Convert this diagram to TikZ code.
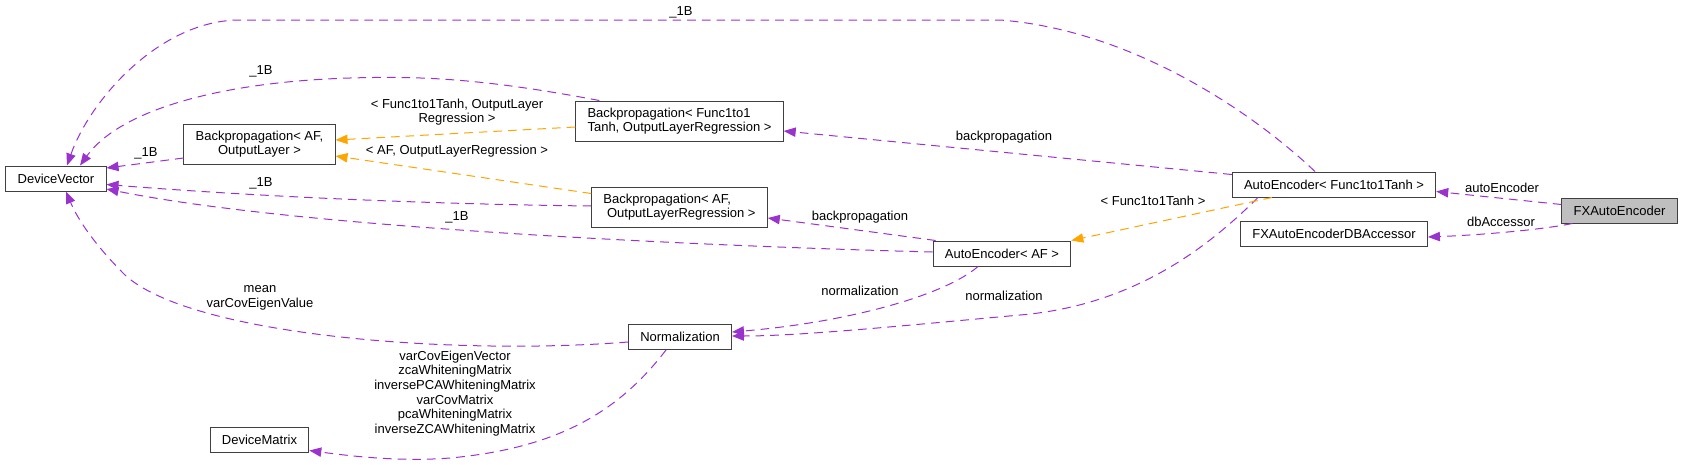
\documentclass[tikz,border=0pt]{standalone}
\usepackage{fontspec}
\setmainfont{Liberation Sans}
\usepackage{tikz}
\usetikzlibrary{arrows.meta,calc}
\definecolor{edgepurple}{HTML}{9A32CD}
\definecolor{tplorange}{HTML}{FFA500}
\definecolor{boxline}{HTML}{404040}
\definecolor{mainfill}{HTML}{BFBFBF}
\tikzset{
  classbox/.style={draw=boxline,fill=white,line width=0.75pt,
                   minimum height=18.75pt,inner xsep=8.8pt,inner ysep=2pt},
  twobox/.style={classbox,minimum height=30pt},
  mainbox/.style={classbox,fill=mainfill},
  usearr/.style={-{Triangle[length=9pt,width=7pt]},color=edgepurple,
                 line width=0.75pt,dash pattern=on 6.5pt off 4.5pt},
  tplarr/.style={usearr,color=tplorange},
  edgelbl/.style={inner sep=0pt,align=center}
}

\begin{document}
\begin{tikzpicture}[x=0.75pt,y=-0.75pt,font=\fontsize{9.75pt}{11pt}\selectfont]
  \useasboundingbox (0,0) rectangle (1683,464);
  % classes
  \node[classbox] (dv) at (56,178.5) {DeviceVector};
  \node[twobox,align=center] (bpafol) at (259.5,144) {Backpropagation< AF,\\OutputLayer >};
  \node[twobox,align=left] (bpfolr) at (679.5,121) {Backpropagation< Func1to1\\Tanh, OutputLayerRegression >};
  \node[twobox,align=left] (bpafolr) at (679.5,207) {Backpropagation< AF,\\~OutputLayerRegression >};
  \node[classbox] (aeaf) at (1002,253.5) {AutoEncoder< AF >};
  \node[classbox] (aef) at (1334,184.5) {AutoEncoder< Func1to1Tanh >};
  \node[mainbox] (fx) at (1619.5,210.5) {FXAutoEncoder};
  \node[classbox] (dba) at (1334,234) {FXAutoEncoderDBAccessor};
  \node[classbox] (norm) at (680,337) {Normalization};
  \node[classbox] (dm) at (259.5,439.5) {DeviceMatrix};

  % usage edges
  \draw[usearr] ($(aef.north)+(-19,0)$) .. controls (1250,110) and (1130,30) .. (1000,20)
    -- (240,20) .. controls (160,20) and (90,100) .. ($(dv.north)+(11,0)$);
  \draw[usearr] ($(bpfolr.north west)+(24,0)$) .. controls (480,78) and (420,76) .. (350,78)
    .. controls (220,82) and (120,110) .. ($(dv.north)+(24,0)$);
  \draw[usearr] ($(bpafol.west)+(0,14)$) -- ($(dv.east)+(0,-10.5)$);
  \draw[usearr] ($(bpafolr.west)+(0,-1)$) .. controls (420,204) and (250,196) .. ($(dv.east)+(0,6)$);
  \draw[usearr] ($(aeaf.west)+(0,-1.5)$) .. controls (700,246) and (300,228) .. ($(dv.east)+(0,10.5)$);
  \draw[usearr] ($(norm.west)+(0,5)$) .. controls (450,356) and (190,335) .. (125,275)
    .. controls (95,245) and (78,220) .. ($(dv.south)+(10,0)$);
  \draw[usearr] ($(aef.west)+(0,-10)$) -- ($(bpfolr.east)+(0,10)$);
  \draw[usearr] ($(aeaf.north west)+(3,0)$) -- ($(bpafolr.east)+(0,11)$);
  \draw[usearr] ($(aeaf.south)+(-24,0)$) .. controls (945,295) and (850,322) .. ($(norm.east)+(0,-5)$);
  \draw[usearr] ($(aef.south)+(-76,0)$) .. controls (1215,240) and (1140,305) .. (1020,315)
    .. controls (900,326) and (800,336) .. ($(norm.east)+(0,-1)$);
  \draw[usearr] ($(norm.south)+(-14,0)$) .. controls (620,410) and (560,448) .. (450,458)
    .. controls (400,462) and (350,456) .. ($(dm.east)+(0,11)$);
  \draw[usearr] ($(fx.west)+(0,-6)$) -- ($(aef.east)+(0,7)$);
  \draw[usearr] ($(fx.south west)+(11,0)$) .. controls (1540,230) and (1480,235) .. ($(dba.east)+(0,3)$);

  % template edges
  \draw[tplarr] ($(bpfolr.west)+(0,6)$) -- ($(bpafol.east)+(0,-4)$);
  \draw[tplarr] ($(bpafolr.north west)+(0,7)$) -- ($(bpafol.east)+(0,12)$);
  \draw[tplarr] ($(aef.south)+(-62,0)$) -- (aeaf.north east);

  % edge labels
  \node[edgelbl] (l1) at (681,12) {\_1B};
  \node[edgelbl] (l2) at (261,71) {\_1B};
  \node[edgelbl] (l3) at (146,153) {\_1B};
  \node[edgelbl] (l4) at (261,183) {\_1B};
  \node[edgelbl] (l5) at (457,217) {\_1B};
  \node[edgelbl] (l6) at (260,298) {mean\\varCovEigenValue};
  \node[edgelbl] (l7) at (457,112) {< Func1to1Tanh, OutputLayer\\Regression >};
  \node[edgelbl] (l8) at (457,151) {< AF, OutputLayerRegression >};
  \node[edgelbl] (l9) at (1004,137) {backpropagation};
  \node[edgelbl] (l10) at (860,217) {backpropagation};
  \node[edgelbl] (l11) at (1153,201) {< Func1to1Tanh >};
  \node[edgelbl] (l12) at (860,291) {normalization};
  \node[edgelbl] (l13) at (1004,296) {normalization};
  \node[edgelbl] (l14) at (455,393.5) {varCovEigenVector\\zcaWhiteningMatrix\\inversePCAWhiteningMatrix\\varCovMatrix\\pcaWhiteningMatrix\\inverseZCAWhiteningMatrix};
  \node[edgelbl] (l15) at (1502,188) {autoEncoder};
  \node[edgelbl] (l16) at (1501,222) {dbAccessor};
\end{tikzpicture}
\end{document}
